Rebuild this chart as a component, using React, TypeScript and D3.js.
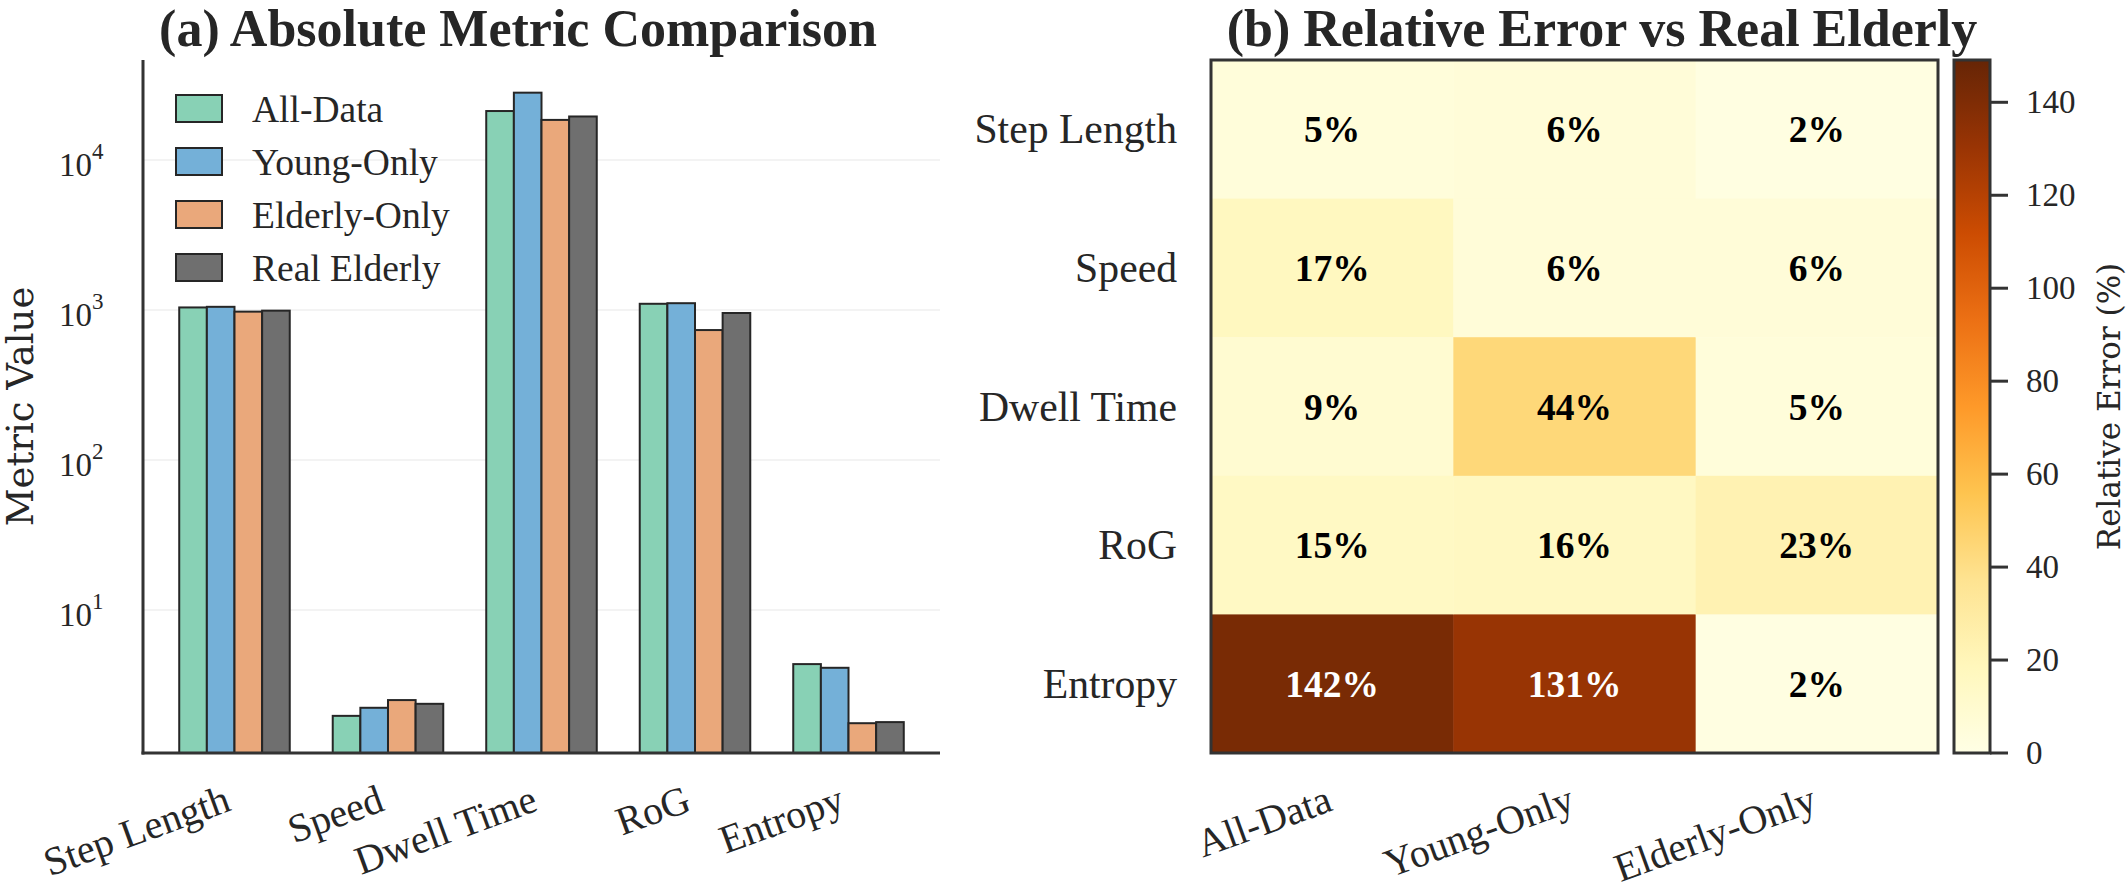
import { useEffect, useRef } from "react";
import * as d3 from "d3";

// ---- data ----
const METRICS = ["Step Length", "Speed", "Dwell Time", "RoG", "Entropy"];
const SOURCES = ["All-Data", "Young-Only", "Elderly-Only", "Real Elderly"];
const SOURCE_COLORS = ["#88d1b5", "#74b0d8", "#eaa87b", "#6f6f6f"];

const ALL_DATA = [1040, 1.97, 21200, 1100, 4.36];
const YOUNG_ONLY = [1050, 2.23, 28100, 1110, 4.12];
const ELDERLY_ONLY = [975, 2.51, 18500, 735, 1.76];
const REAL_ELDERLY = [990, 2.37, 19500, 955, 1.79];

const ERR_COLUMNS = ["All-Data", "Young-Only", "Elderly-Only"];
const ERR_ALL_DATA = [5, 17, 9, 15, 142];
const ERR_YOUNG_ONLY = [6, 6, 44, 16, 131];
const ERR_ELDERLY_ONLY = [2, 6, 5, 23, 2];

const LOG_TICKS = [10, 100, 1000, 10000];
const CBAR_TICKS = [0, 20, 40, 60, 80, 100, 120, 140];

// matplotlib YlOrBr
const YLORBR = ["#ffffe5", "#fff7bc", "#fee391", "#fec44f", "#fe9929", "#ec7014", "#cc4c02", "#993404", "#662506"];

// ---- layout ----
const W = 2126;
const H = 892;
const SERIF = "'Liberation Serif', 'Times New Roman', serif";
const DJ = "'DejaVu Serif', serif";
const TXT = "#262626";
const SPINE = "#333333";

const BAR = { left: 143, right: 940, top: 60, bottom: 753 };
const HEAT = { left: 1211, right: 1938, top: 60, bottom: 753 };
const CBAR = { left: 1954, right: 1990 };
const ROT = 20;

function rotatedLabel(
  g: d3.Selection<SVGGElement, unknown, null, undefined>,
  x: number,
  bottom: number,
  text: string
) {
  g.append("text")
    .attr("transform", `translate(${x - 2},${bottom + 57}) rotate(${-ROT})`)
    .attr("text-anchor", "end")
    .attr("font-family", SERIF)
    .attr("font-size", 40)
    .attr("fill", TXT)
    .text(text);
}

function drawBars(svg: d3.Selection<SVGSVGElement, unknown, null, undefined>) {
  const series = [ALL_DATA, YOUNG_ONLY, ELDERLY_ONLY, REAL_ELDERLY];
  const bw = 0.18;

  const x = d3.scaleLinear().domain([-0.596, METRICS.length - 1 + 0.596]).range([BAR.left, BAR.right]);
  const y = d3.scaleLog().domain([1.114, 46400]).range([BAR.bottom, BAR.top]);

  const g = svg.append("g");

  // grid
  LOG_TICKS.forEach((t) => {
    g.append("line")
      .attr("x1", BAR.left).attr("x2", BAR.right)
      .attr("y1", y(t)).attr("y2", y(t))
      .attr("stroke", "#efefef")
      .attr("stroke-width", 1.5);
  });

  // bars
  series.forEach((vals, j) => {
    vals.forEach((v, i) => {
      const cx = i + (j - 1.5) * bw;
      g.append("rect")
        .attr("x", x(cx - bw / 2))
        .attr("y", y(v))
        .attr("width", x(bw) - x(0))
        .attr("height", BAR.bottom - y(v))
        .attr("fill", SOURCE_COLORS[j])
        .attr("stroke", "#262626")
        .attr("stroke-width", 2);
    });
  });

  // spines
  g.append("line")
    .attr("x1", BAR.left).attr("x2", BAR.left)
    .attr("y1", BAR.top).attr("y2", BAR.bottom + 1.5)
    .attr("stroke", SPINE).attr("stroke-width", 3);
  g.append("line")
    .attr("x1", BAR.left - 1.5).attr("x2", BAR.right)
    .attr("y1", BAR.bottom).attr("y2", BAR.bottom)
    .attr("stroke", SPINE).attr("stroke-width", 3);

  // y tick labels 10^n
  LOG_TICKS.forEach((t) => {
    const ty = y(t);
    const exp = Math.round(Math.log10(t));
    g.append("text")
      .attr("x", 92).attr("y", ty + 16)
      .attr("text-anchor", "end")
      .attr("font-family", SERIF).attr("font-size", 33)
      .attr("fill", TXT)
      .text("10");
    g.append("text")
      .attr("x", 92).attr("y", ty - 1)
      .attr("font-family", SERIF).attr("font-size", 23)
      .attr("fill", TXT)
      .text(String(exp));
  });

  // x tick labels
  METRICS.forEach((m, i) => rotatedLabel(g, x(i), BAR.bottom, m));

  // y label
  g.append("text")
    .attr("transform", `translate(33,${(BAR.top + BAR.bottom) / 2}) rotate(-90)`)
    .attr("text-anchor", "middle")
    .attr("font-family", DJ).attr("font-size", 37)
    .attr("fill", TXT)
    .text("Metric Value");

  // legend
  SOURCES.forEach((s, j) => {
    const top = 95 + j * 53;
    g.append("rect")
      .attr("x", 176).attr("y", top)
      .attr("width", 46).attr("height", 27)
      .attr("fill", SOURCE_COLORS[j])
      .attr("stroke", "#262626").attr("stroke-width", 2);
    g.append("text")
      .attr("x", 252).attr("y", top + 27)
      .attr("font-family", SERIF).attr("font-size", 37.5)
      .attr("fill", TXT)
      .text(s);
  });

  // title
  g.append("text")
    .attr("x", 518).attr("y", 46)
    .attr("text-anchor", "middle")
    .attr("font-family", SERIF).attr("font-size", 52).attr("font-weight", "bold")
    .attr("fill", TXT)
    .text("(a) Absolute Metric Comparison");
}

function drawHeat(svg: d3.Selection<SVGSVGElement, unknown, null, undefined>) {
  const cols = [ERR_ALL_DATA, ERR_YOUNG_ONLY, ERR_ELDERLY_ONLY];
  const vmax = (d3.max(cols.flat()) ?? 1) * 1.05;

  const x = d3.scaleBand<number>().domain(d3.range(ERR_COLUMNS.length)).range([HEAT.left, HEAT.right]);
  const y = d3.scaleBand<number>().domain(d3.range(METRICS.length)).range([HEAT.top, HEAT.bottom]);
  const color = d3.scaleLinear<string>()
    .domain(YLORBR.map((_, k) => (k / (YLORBR.length - 1)) * vmax))
    .range(YLORBR)
    .clamp(true);
  const cy = d3.scaleLinear().domain([0, vmax]).range([HEAT.bottom, HEAT.top]);

  const g = svg.append("g");

  cols.forEach((vals, c) => {
    vals.forEach((v, r) => {
      const fill = color(v);
      g.append("rect")
        .attr("x", x(c)!).attr("y", y(r)!)
        .attr("width", x.bandwidth() + 0.5).attr("height", y.bandwidth() + 0.5)
        .attr("fill", fill);
      g.append("text")
        .attr("x", x(c)! + x.bandwidth() / 2)
        .attr("y", y(r)! + y.bandwidth() / 2 + 13)
        .attr("text-anchor", "middle")
        .attr("font-family", SERIF).attr("font-size", 37.5).attr("font-weight", "bold")
        .attr("fill", d3.lab(fill).l < 50 ? "#ffffff" : "#000000")
        .text(`${v}%`);
    });
  });

  // frame
  g.append("rect")
    .attr("x", HEAT.left).attr("y", HEAT.top)
    .attr("width", HEAT.right - HEAT.left).attr("height", HEAT.bottom - HEAT.top)
    .attr("fill", "none").attr("stroke", SPINE).attr("stroke-width", 3);

  // row labels
  METRICS.forEach((m, r) => {
    g.append("text")
      .attr("x", 1177).attr("y", y(r)! + y.bandwidth() / 2 + 14)
      .attr("text-anchor", "end")
      .attr("font-family", SERIF).attr("font-size", 41.7)
      .attr("fill", TXT)
      .text(m);
  });

  // column labels
  ERR_COLUMNS.forEach((c, i) => rotatedLabel(g, x(i)! + x.bandwidth() / 2 + 4, HEAT.bottom, c));

  // colorbar
  const grad = svg.append("defs").append("linearGradient")
    .attr("id", "cbar-grad")
    .attr("x1", 0).attr("y1", 1).attr("x2", 0).attr("y2", 0);
  YLORBR.forEach((c, k) => {
    grad.append("stop").attr("offset", k / (YLORBR.length - 1)).attr("stop-color", c);
  });
  g.append("rect")
    .attr("x", CBAR.left).attr("y", HEAT.top)
    .attr("width", CBAR.right - CBAR.left).attr("height", HEAT.bottom - HEAT.top)
    .attr("fill", "url(#cbar-grad)")
    .attr("stroke", SPINE).attr("stroke-width", 3);

  CBAR_TICKS.forEach((t) => {
    g.append("line")
      .attr("x1", CBAR.right).attr("x2", CBAR.right + 18)
      .attr("y1", cy(t)).attr("y2", cy(t))
      .attr("stroke", SPINE).attr("stroke-width", 3);
    g.append("text")
      .attr("x", 2026).attr("y", cy(t) + 11)
      .attr("font-family", SERIF).attr("font-size", 33)
      .attr("fill", TXT)
      .text(t);
  });

  g.append("text")
    .attr("transform", `translate(2120,${(HEAT.top + HEAT.bottom) / 2}) rotate(-90)`)
    .attr("text-anchor", "middle")
    .attr("font-family", DJ).attr("font-size", 31)
    .attr("fill", TXT)
    .text("Relative Error (%)");

  // title
  g.append("text")
    .attr("x", 1602).attr("y", 46)
    .attr("text-anchor", "middle")
    .attr("font-family", SERIF).attr("font-size", 52).attr("font-weight", "bold")
    .attr("fill", TXT)
    .text("(b) Relative Error vs Real Elderly");
}

export default function App() {
  const ref = useRef<SVGSVGElement>(null);

  useEffect(() => {
    if (!ref.current) return;
    const svg = d3.select(ref.current);
    svg.selectAll("*").remove();
    drawBars(svg);
    drawHeat(svg);
  }, []);

  return (
    <svg
      ref={ref}
      width={W}
      height={H}
      style={{ position: "absolute", left: 0, top: 0, background: "#ffffff" }}
    />
  );
}
